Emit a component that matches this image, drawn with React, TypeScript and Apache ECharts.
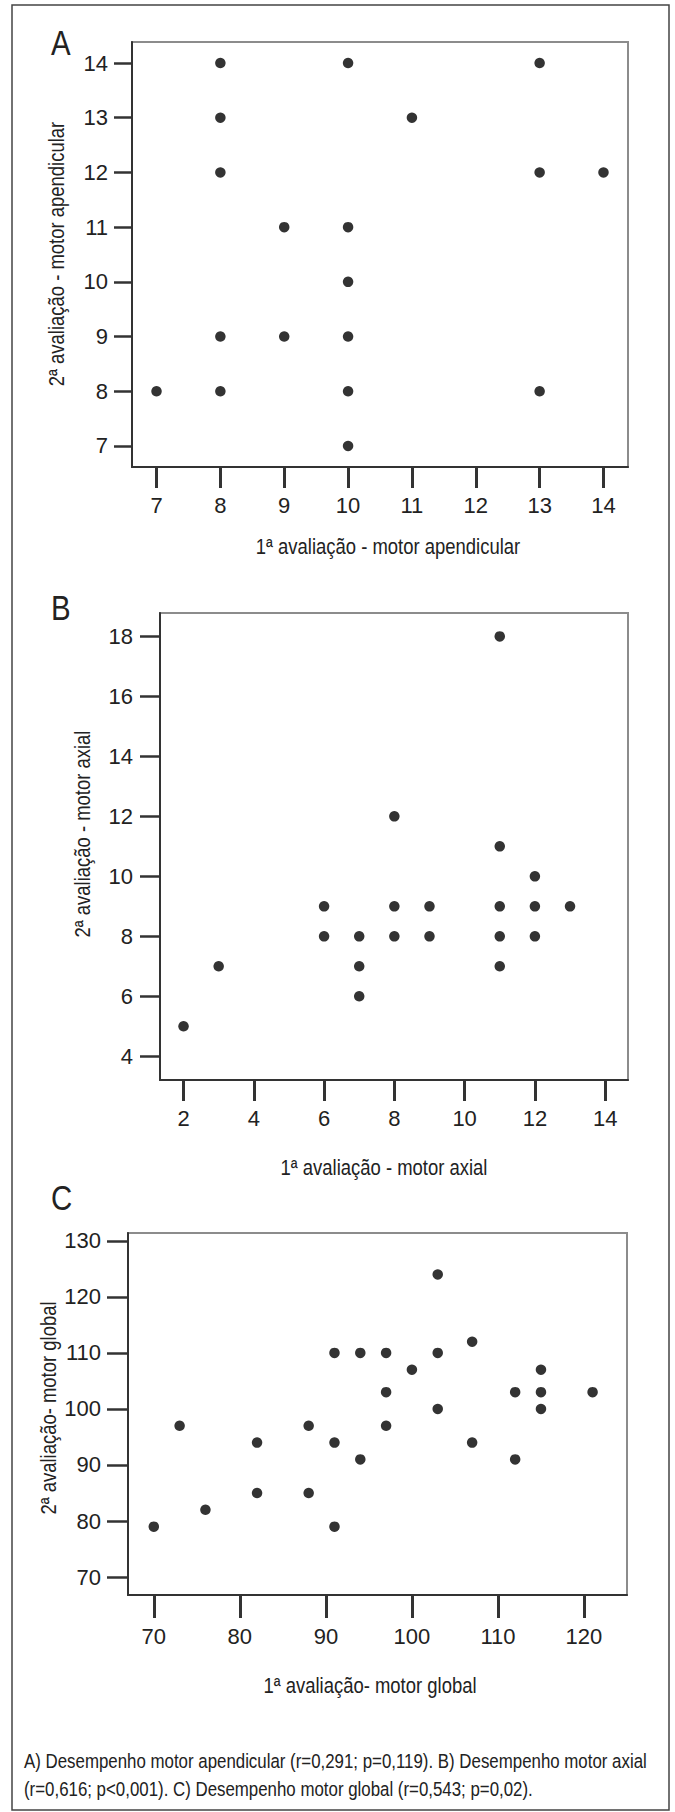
import React, { useEffect, useRef } from 'react';
import * as echarts from 'echarts';

const FONT = "'Liberation Sans', Arial, sans-serif";

// Panel A – motor apendicular
const aX = [7, 8, 8, 8, 8, 8, 9, 9, 10, 10, 10, 10, 10, 10, 11, 13, 13, 13, 14];
const aY = [8, 14, 13, 12, 9, 8, 11, 9, 14, 11, 10, 9, 8, 7, 13, 14, 12, 8, 12];
const aXTicks = [7, 8, 9, 10, 11, 12, 13, 14];
const aYTicks = [7, 8, 9, 10, 11, 12, 13, 14];

// Panel B – motor axial
const bX = [2, 3, 6, 6, 7, 7, 7, 8, 8, 8, 9, 9, 11, 11, 11, 11, 11, 12, 12, 12, 13];
const bY = [5, 7, 9, 8, 8, 7, 6, 12, 9, 8, 9, 8, 18, 11, 9, 8, 7, 10, 9, 8, 9];
const bXTicks = [2, 4, 6, 8, 10, 12, 14];
const bYTicks = [4, 6, 8, 10, 12, 14, 16, 18];

// Panel C – motor global
const cX = [70, 73, 76, 82, 82, 88, 88, 91, 91, 91, 94, 94, 97, 97, 97, 100, 103, 103, 103, 107, 107, 112, 112, 115, 115, 115, 121];
const cY = [79, 97, 82, 94, 85, 97, 85, 110, 94, 79, 110, 91, 110, 103, 97, 107, 124, 110, 100, 112, 94, 103, 91, 107, 103, 100, 103];
const cXTicks = [70, 80, 90, 100, 110, 120];
const cYTicks = [70, 80, 90, 100, 110, 120, 130];

const panelLetters = ['A', 'B', 'C'];
const xTitles = ['1ª avaliação - motor apendicular', '1ª avaliação - motor axial', '1ª avaliação- motor global'];
const yTitles = ['2ª avaliação - motor apendicular', '2ª avaliação - motor axial', '2ª avaliação- motor global'];
const captionLines = [
  'A) Desempenho motor apendicular (r=0,291; p=0,119). B) Desempenho motor axial',
  '(r=0,616; p<0,001). C) Desempenho motor global (r=0,543; p=0,02).',
];

const TEXT = '#222';
const AXIS = '#333';
const SQUEEZE = 0.84;

function xAxisCfg(gi: number, min: number, max: number, ticks: number[], tickLen: number, labelMargin: number) {
  return {
    type: 'value', gridIndex: gi, min, max,
    axisLine: { show: true, onZero: false, lineStyle: { color: AXIS, width: 2 } },
    axisTick: { show: true, inside: false, length: tickLen, customValues: ticks, lineStyle: { color: AXIS, width: 3 } },
    axisLabel: { show: true, customValues: ticks, margin: labelMargin, fontFamily: FONT, fontSize: 22, color: TEXT },
    splitLine: { show: false },
  };
}

function yAxisCfg(gi: number, min: number, max: number, ticks: number[], tickLen: number, labelMargin: number) {
  return {
    type: 'value', gridIndex: gi, min, max,
    axisLine: { show: true, onZero: false, lineStyle: { color: AXIS, width: 2 } },
    axisTick: { show: true, inside: false, length: tickLen, customValues: ticks, lineStyle: { color: AXIS, width: 2.5 } },
    axisLabel: { show: true, customValues: ticks, margin: labelMargin, fontFamily: FONT, fontSize: 22, color: TEXT },
    splitLine: { show: false },
  };
}

function pts(xs: number[], ys: number[]) {
  return xs.map((x, i) => [x, ys[i]]);
}

function label(text: string, x: number, y: number, size: number, rotate = false, align = 'center', squeeze = SQUEEZE) {
  return {
    type: 'text', x, y, rotation: rotate ? Math.PI / 2 : 0, scaleX: squeeze, silent: true,
    style: { text, font: `${size}px ${FONT}`, fill: TEXT, align, verticalAlign: 'middle' },
  };
}

export default function App() {
  const ref = useRef<HTMLDivElement>(null);
  useEffect(() => {
    document.body.style.margin = '0';
    const chart = echarts.init(ref.current!, null, { renderer: 'svg' });
    const gridStyle = { show: true, borderColor: '#8c8c8c', borderWidth: 2, backgroundColor: 'transparent' };
    const dot = { symbol: 'circle', symbolSize: 10.5, itemStyle: { color: '#000' } };
    const option = {
      animation: false,
      backgroundColor: '#fff',
      grid: [
        { ...gridStyle, left: 132, top: 42, width: 496, height: 425 },
        { ...gridStyle, left: 160, top: 613, width: 468, height: 467 },
        { ...gridStyle, left: 128, top: 1233, width: 499, height: 362 },
      ],
      xAxis: [
        xAxisCfg(0, 6.616, 14.384, aXTicks, 21, 27),
        xAxisCfg(1, 1.33, 14.65, bXTicks, 21, 27),
        xAxisCfg(2, 67, 125, cXTicks, 23, 30),
      ],
      yAxis: [
        yAxisCfg(0, 6.616, 14.384, aYTicks, 18, 24),
        yAxisCfg(1, 3.21, 18.78, bYTicks, 20, 27),
        yAxisCfg(2, 66.8, 131.4, cYTicks, 21, 27),
      ],
      series: [
        { type: 'scatter', xAxisIndex: 0, yAxisIndex: 0, data: pts(aX, aY), ...dot },
        { type: 'scatter', xAxisIndex: 1, yAxisIndex: 1, data: pts(bX, bY), ...dot },
        { type: 'scatter', xAxisIndex: 2, yAxisIndex: 2, data: pts(cX, cY), ...dot },
      ],
      graphic: [
        { type: 'rect', shape: { x: 12, y: 5, width: 657, height: 1805 }, style: { fill: 'none', stroke: '#444', lineWidth: 1.5 }, silent: true },
        label(panelLetters[0], 51, 43, 35, false, 'left'),
        label(panelLetters[1], 51, 608, 35, false, 'left'),
        label(panelLetters[2], 51, 1198, 35, false, 'left'),
        label(xTitles[0], 388, 546, 22),
        label(xTitles[1], 384, 1167, 22),
        label(xTitles[2], 370, 1685, 22),
        label(yTitles[0], 56, 254, 22, true),
        label(yTitles[1], 82, 834, 22, true),
        label(yTitles[2], 48, 1408, 22, true),
        label(captionLines[0], 24, 1761, 19.5, false, 'left', 0.865),
        label(captionLines[1], 24, 1789, 19.5, false, 'left', 0.865),
      ],
    };
    chart.setOption(option as any);
    return () => chart.dispose();
  }, []);
  return <div ref={ref} style={{ width: 675, height: 1812 }} />;
}
